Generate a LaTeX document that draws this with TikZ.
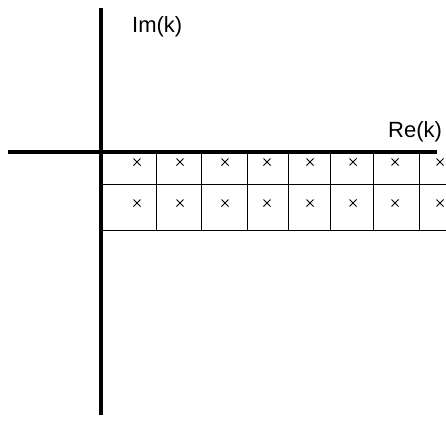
\documentclass[tikz,border=0pt]{standalone}
\usepackage{fontspec}
\setmainfont{Liberation Sans}
\begin{document}
\begin{tikzpicture}[x=1pt,y=-1pt,
  axis/.style={line width=3.6pt},
  grid/.style={line width=0.8pt},
  lbl/.style={anchor=base west, inner sep=0pt, font=\fontsize{22}{24}\selectfont},
  crossmark/.style={line width=0.9pt}]
\useasboundingbox (0,0) rectangle (446,421);
% grid
\foreach \x in {156,201,247,288,330,373,419}
  \draw[grid] (\x,152) -- (\x,230);
\draw[grid] (101,184) -- (446,184);
\draw[grid] (101,230) -- (446,230);
% crosses
\foreach \x in {137,180,225,267,310,353,395,440}{
  \draw[crossmark] (\x-3.5,158.5) -- (\x+3.5,165.5) (\x-3.5,165.5) -- (\x+3.5,158.5);
  \draw[crossmark] (\x-3.5,199.5) -- (\x+3.5,206.5) (\x-3.5,206.5) -- (\x+3.5,199.5);
}
% axes
\coordinate (vt) at (101,8);
\coordinate (vb) at (101,415);
\coordinate (hl) at (8,152);
\coordinate (hr) at (437,152);
\draw[axis] (vt) -- (vb);
\draw[axis] (hl) -- (hr);
% labels
\node[lbl] (im) at (132,32) {Im(k)};
\node[lbl] (re) at (388,137) {Re(k)};
\end{tikzpicture}
\end{document}
